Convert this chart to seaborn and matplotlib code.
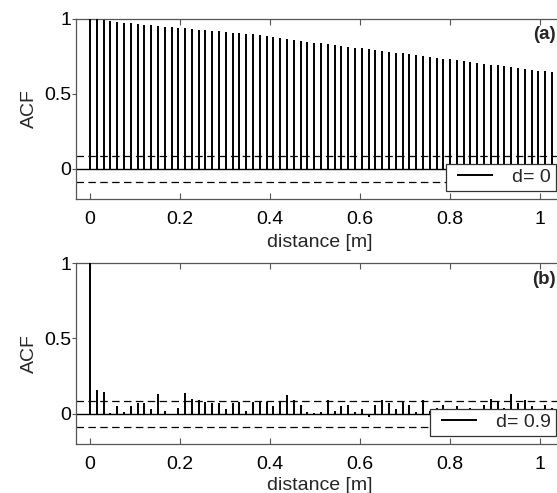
import numpy as np
import matplotlib
matplotlib.use("Agg")
import matplotlib.pyplot as plt
from matplotlib.legend_handler import HandlerLineCollection
from matplotlib.collections import LineCollection
import seaborn as sns

# lag step between stems [m]
step = 0.0151

# ACF, panel (a), d = 0
acf_a = [1.000, 0.998, 0.990, 0.983, 0.978, 0.973, 0.969, 0.964, 0.960, 0.956,
         0.951, 0.947, 0.942, 0.938, 0.934, 0.930, 0.926, 0.922, 0.918, 0.914,
         0.910, 0.906, 0.902, 0.898, 0.894, 0.890, 0.886, 0.880, 0.873, 0.866,
         0.860, 0.853, 0.847, 0.840, 0.835, 0.830, 0.824, 0.818, 0.813, 0.807,
         0.802, 0.796, 0.790, 0.785, 0.779, 0.773, 0.768, 0.762, 0.756, 0.751,
         0.745, 0.739, 0.734, 0.728, 0.722, 0.717, 0.711, 0.705, 0.700, 0.694,
         0.688, 0.683, 0.677, 0.671, 0.666, 0.660, 0.654, 0.648, 0.642, 0.637]

# ACF, panel (b), d = 0.9
acf_b = [1.000, 0.155, 0.148, 0.005, 0.053, 0.010, 0.050, 0.070, 0.075, 0.030,
         0.130, 0.020, -0.010, 0.040, 0.135, 0.100, 0.095, 0.080, 0.070, 0.070,
         0.030, 0.075, 0.080, 0.020, 0.080, 0.085, 0.080, 0.050, 0.080, 0.125,
         0.090, 0.060, 0.010, 0.005, 0.010, 0.090, 0.020, 0.050, 0.060, 0.010,
         0.030, -0.020, 0.060, 0.090, 0.070, 0.030, 0.080, 0.060, 0.010, 0.090,
         0.020, 0.040, 0.060, 0.030, 0.050, 0.020, 0.040, 0.030, 0.060, 0.100,
         0.080, 0.040, 0.130, 0.070, 0.090, 0.050, 0.030, 0.060, 0.040, 0.050]

conf = 0.085
labels = ["d= 0", "d= 0.9"]
tags = ["(a)", "(b)"]
xticks = [0, 0.2, 0.4, 0.6, 0.8, 1]
yticks = [0, 0.5, 1]

sns.set_style("white")
plt.rcParams['font.family'] = ['Liberation Sans', 'DejaVu Sans']
plt.rcParams['font.size'] = 14

fig = plt.figure(figsize=(5.57, 4.93), dpi=100)
positions = [[0.1373, 0.5963, 0.8725, 0.3661],
             [0.1373, 0.0994, 0.8725, 0.3671]]
xlabel_pads = [4.5, 3.0]

for pos, acf, lab, tag, lp in zip(positions, [acf_a, acf_b], labels, tags, xlabel_pads):
    ax = fig.add_axes(pos)
    lags = np.arange(len(acf)) * step
    ax.axhline(conf, color="black", lw=0.9, ls=(0, (6, 3.5)), zorder=1)
    ax.axhline(-conf, color="black", lw=0.9, ls=(0, (6, 3.5)), zorder=1)
    ax.axhline(0, color="black", lw=1.0, zorder=2)
    ax.vlines(lags, 0, acf, color="black", lw=1.4, zorder=3, label=lab)
    ax.set_xlim(-0.03, 1.05)
    ax.set_ylim(-0.2, 1)
    ax.set_xticks(xticks)
    ax.set_xticklabels(["0", "0.2", "0.4", "0.6", "0.8", "1"])
    ax.set_yticks(yticks)
    ax.set_yticklabels(["0", "0.5", "1"])
    ax.tick_params(axis="x", direction="in", length=4, width=0.8, pad=8.3,
                   top=True, bottom=True, colors="#555555", labelcolor="black",
                   labelsize=14)
    ax.tick_params(axis="y", direction="out", length=3, width=0.8, pad=0.5,
                   left=True, colors="#555555", labelcolor="black", labelsize=14)
    for sp in ax.spines.values():
        sp.set_color("#555555")
        sp.set_linewidth(0.9)
    ax.set_xlabel("distance [m]", fontsize=14, labelpad=lp)
    ax.set_ylabel("ACF", fontsize=14, labelpad=5)
    ax.text(0.986, 0.91, tag, transform=ax.transAxes, ha="right", va="center",
            fontsize=13.5, fontweight="bold")
    leg = ax.legend(loc="lower right", bbox_to_anchor=(0.9866, 0.044),
                    borderaxespad=0, fancybox=False, framealpha=1,
                    edgecolor="#333333", handlelength=2.15, handletextpad=1.0,
                    borderpad=0.25, fontsize=14,
                    handler_map={LineCollection: HandlerLineCollection(xpad=0.3)})
    leg.get_frame().set_linewidth(0.9)

fig.savefig("out.png", dpi=100)
